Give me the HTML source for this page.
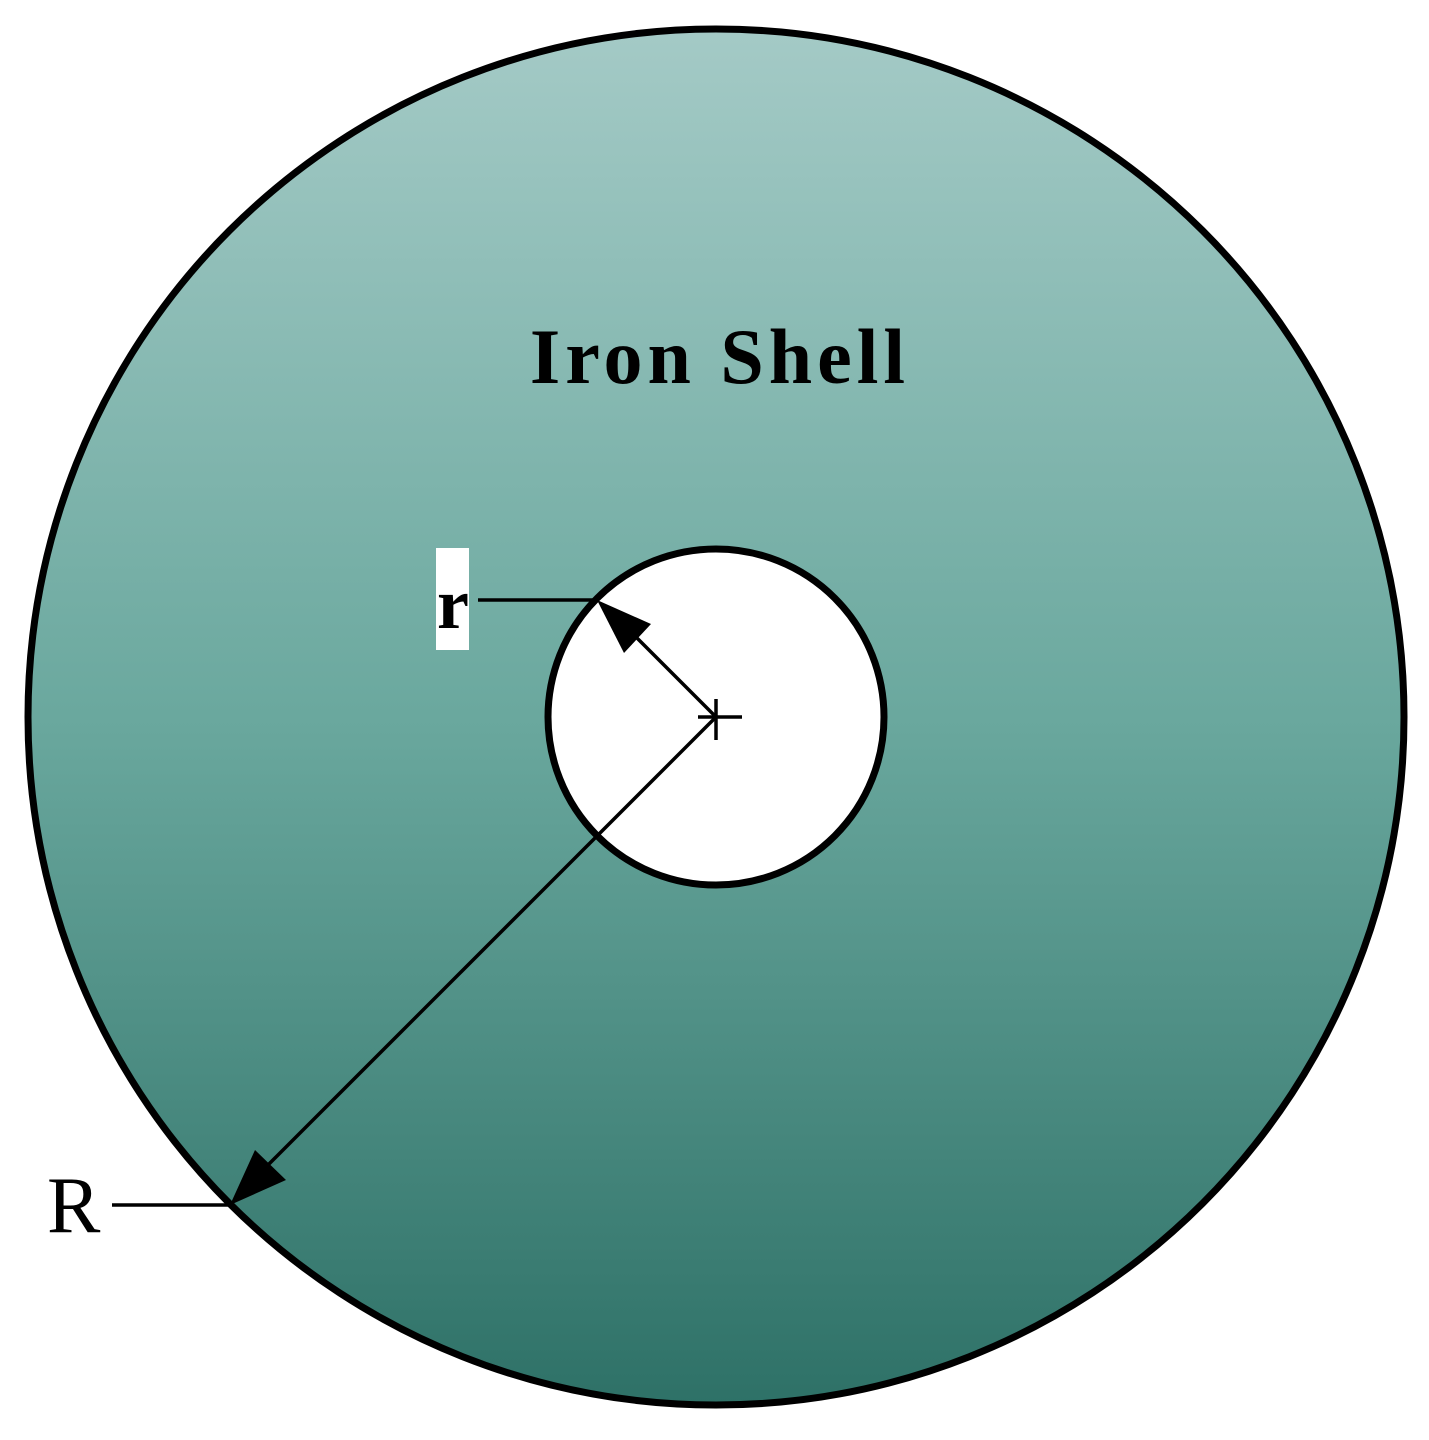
<!DOCTYPE html>
<html><head><style>html,body{margin:0;padding:0;background:#fff;}</style></head>
<body>
<svg width="1429" height="1435" viewBox="0 0 1429 1435" xmlns="http://www.w3.org/2000/svg">
<defs>
<linearGradient id="g" x1="0" y1="0" x2="0" y2="1">
<stop offset="0" stop-color="#a4cac6"/>
<stop offset="0.5" stop-color="#6aa89e"/>
<stop offset="1" stop-color="#2e7167"/>
</linearGradient>
</defs>
<circle cx="716" cy="717" r="688" fill="url(#g)" stroke="#000" stroke-width="7"/>
<circle cx="716" cy="717" r="168" fill="#fff" stroke="#000" stroke-width="7"/>
<text x="720" y="383" text-anchor="middle" font-family="Liberation Serif, serif" font-weight="bold" font-size="78" letter-spacing="5">Iron Shell</text>
<rect x="436" y="548" width="33" height="102" fill="#fff"/>
<text x="453" y="628" text-anchor="middle" font-family="Liberation Serif, serif" font-weight="bold" font-size="72">r</text>
<text x="47" y="1232" font-family="Liberation Serif, serif" font-size="80">R</text>
<g stroke="#000" stroke-width="3.5" fill="none">
<line x1="478" y1="600" x2="597" y2="600"/>
<line x1="112" y1="1205" x2="230" y2="1205"/>
<line x1="716" y1="717" x2="630" y2="631"/>
<line x1="716" y1="717" x2="262" y2="1171"/>
<line x1="698" y1="717" x2="742" y2="717"/>
<line x1="716" y1="699" x2="716" y2="740"/>
</g>
<polygon points="597,600 651,624 624,653" fill="#000"/>
<polygon points="230,1205 255,1150 286,1180" fill="#000"/>
</svg>
</body></html>
